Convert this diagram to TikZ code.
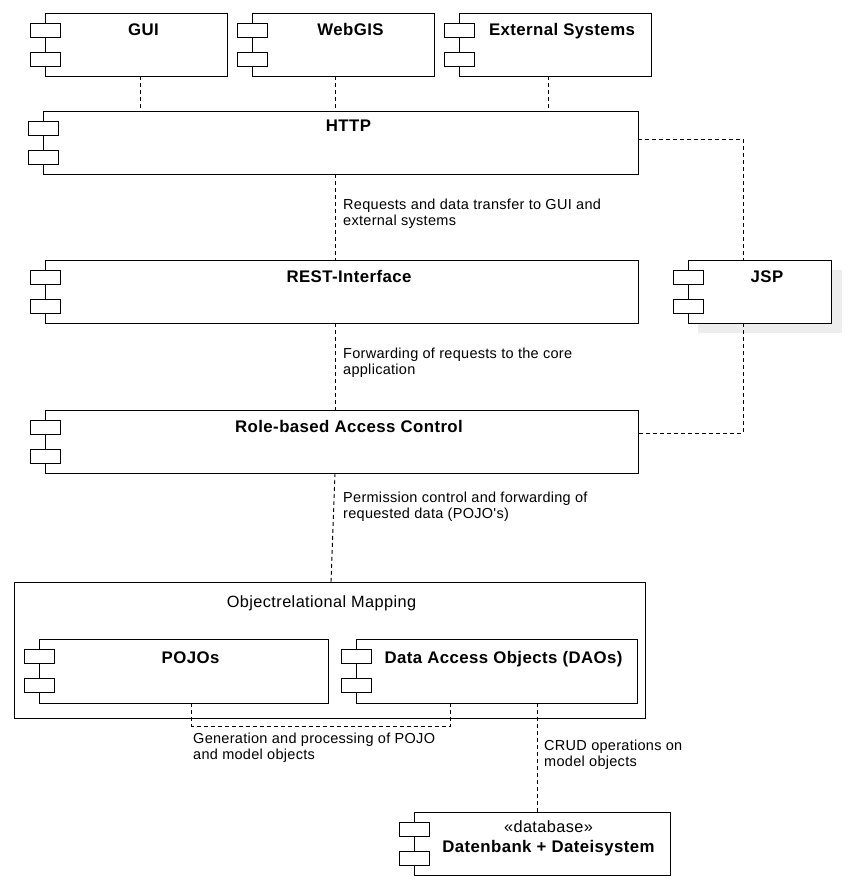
\documentclass[tikz,border=0pt]{standalone}
\usepackage{fontspec}
\setmainfont{Liberation Sans}
\newfontfamily\namefont[LetterSpace=2.5]{Liberation Sans}
\newfontfamily\lblfont[LetterSpace=2]{Liberation Sans}
\usetikzlibrary{calc}
\tikzset{
  comp/.style={draw, fill=white, line width=0.9pt, anchor=north west, inner sep=0pt, outer sep=0pt},
  icon/.style={draw, fill=white, line width=0.9pt},
  cname/.style={anchor=base, inner sep=0pt, font=\namefont\bfseries\fontsize{16.8}{19}\selectfont},
  ctext/.style={anchor=base, inner sep=0pt, font=\namefont\fontsize{16.3}{18}\selectfont},
  lbl/.style={anchor=north west, inner sep=0pt, align=left, font=\lblfont\fontsize{14.5}{16}\selectfont},
  dep/.style={draw, line width=0.9pt, dash pattern=on 4pt off 3pt},
  shadowbox/.style={fill=black!7, draw=none}
}
\newcommand\compicons[1]{%
  \draw[icon] ([shift={(-15,10)}]#1.north west) rectangle ++(30,14);
  \draw[icon] ([shift={(-15,39)}]#1.north west) rectangle ++(30,14);
}
\begin{document}
\begin{tikzpicture}[x=1pt,y=-1pt]
\useasboundingbox (0,0) rectangle (852,890);
\fill[white] (0,0) rectangle (852,890);

% top components
\node[comp, minimum width=182pt, minimum height=63pt] (gui) at (45,13) {};
\compicons{gui}
\node[cname] (gui-t) at (143.5,36) {GUI};
\node[comp, minimum width=182pt, minimum height=63pt] (webgis) at (252,13) {};
\compicons{webgis}
\node[cname] (webgis-t) at (350.5,36) {WebGIS};
\node[comp, minimum width=192pt, minimum height=63pt] (ext) at (459,13) {};
\compicons{ext}
\node[cname] (ext-t) at (562,36) {External Systems};

% HTTP
\node[comp, minimum width=595pt, minimum height=63pt] (http) at (43,111) {};
\compicons{http}
\node[cname] (http-t) at (348.5,132) {HTTP};

% JSP with shadow
\fill[shadowbox] (698,270) rectangle (842,333);
\node[comp, minimum width=143pt, minimum height=63pt] (jsp) at (688,260) {};
\compicons{jsp}
\node[cname] (jsp-t) at (767,283) {JSP};

% REST
\node[comp, minimum width=593pt, minimum height=63pt] (rest) at (45,260) {};
\compicons{rest}
\node[cname] (rest-t) at (349,282) {REST-Interface};

% RBAC
\node[comp, minimum width=593pt, minimum height=63pt] (rbac) at (45,410) {};
\compicons{rbac}
\node[cname] (rbac-t) at (349,432) {Role-based Access Control};

% ORM
\node[comp, minimum width=631pt, minimum height=136pt] (orm) at (14,582) {};
\node[ctext] (orm-t) at (321.5,607) {Objectrelational Mapping};
\node[comp, minimum width=289pt, minimum height=64pt] (pojo) at (39,639) {};
\compicons{pojo}
\node[cname] (pojo-t) at (190.5,663) {POJOs};
\node[comp, minimum width=281pt, minimum height=64pt] (dao) at (356,639) {};
\compicons{dao}
\node[cname] (dao-t) at (503.5,663) {Data Access Objects (DAOs)};

% DB
\node[comp, minimum width=256pt, minimum height=63pt] (db) at (414,812) {};
\compicons{db}
\node[ctext] (db-s) at (548.5,832) {«database»};
\node[cname] (db-t) at (548.5,852) {Datenbank + Dateisystem};

% connectors
\draw[dep] ([xshift=4pt]gui.south) -- ([xshift=4pt]gui.south |- http.north);
\draw[dep] ([xshift=-8pt]webgis.south) -- ([xshift=-8pt]webgis.south |- http.north);
\draw[dep] ([xshift=-7pt]ext.south) -- ([xshift=-7pt]ext.south |- http.north);
\draw[dep] ([yshift=3.5pt]http.east) -| ([xshift=-16.5pt]jsp.north);
\draw[dep] ([xshift=-16.5pt]jsp.south) |- ([yshift=8.5pt]rbac.east);
\draw[dep] ([xshift=-5.5pt]http.south) -- ([xshift=-5.5pt]http.south |- rest.north);
\draw[dep] ([xshift=-6.5pt]rest.south) -- ([xshift=-6.5pt]rest.south |- rbac.north);
\draw[dep] ([xshift=-6.5pt]rbac.south) -- ([xshift=1.5pt]orm.north);
\draw[dep] ([xshift=8pt]pojo.south) -- ++(0,23) -| ([xshift=-46.5pt]dao.south);
\draw[dep] ([xshift=40.5pt]dao.south) -- ([xshift=40.5pt]dao.south |- db.north);

% labels
\node[lbl] (l1) at (343,199) {Requests and data transfer to GUI and\\external systems};
\node[lbl] (l2) at (343,348) {Forwarding of requests to the core\\application};
\node[lbl] (l3) at (343,492) {Permission control and forwarding of\\requested data (POJO's)};
\node[lbl] (l4) at (193,733) {Generation and processing of POJO\\and model objects};
\node[lbl] (l5) at (544,740) {CRUD operations on\\model objects};
\end{tikzpicture}
\end{document}
